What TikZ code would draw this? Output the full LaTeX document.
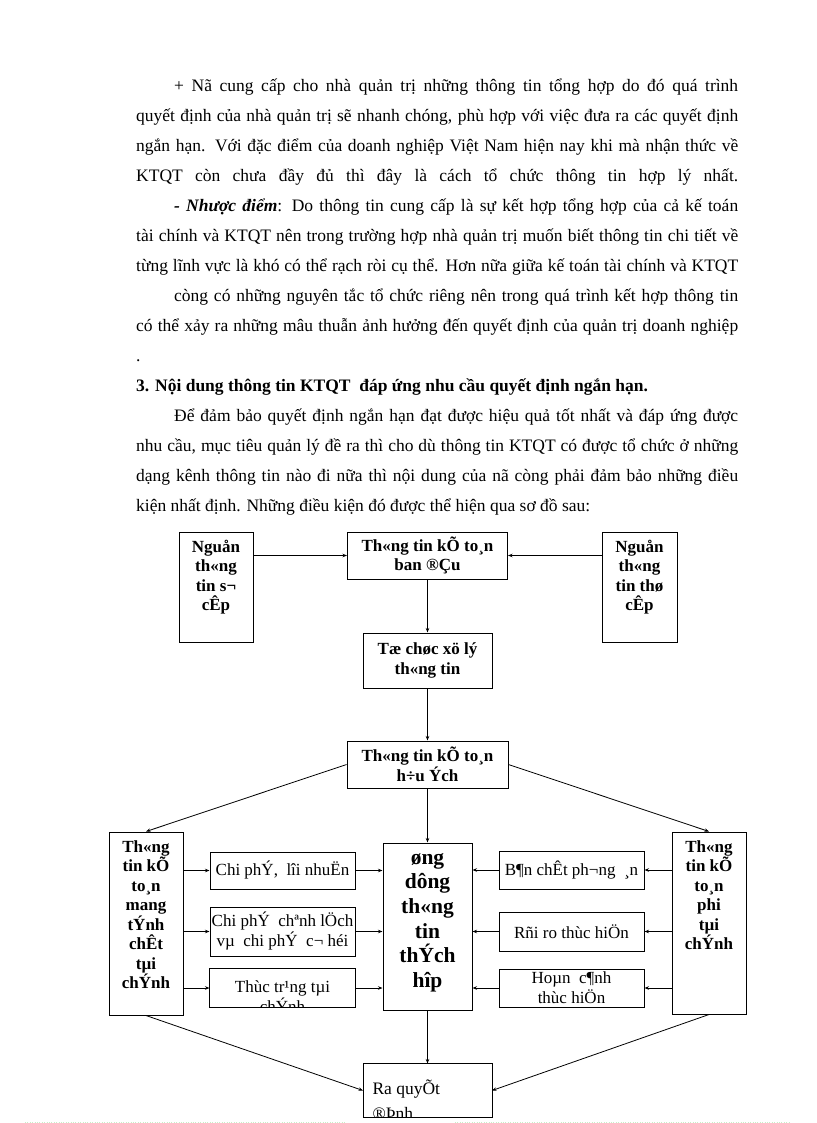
\documentclass[tikz,border=0pt]{standalone}
\usepackage{fontspec}
\setmainfont{Liberation Serif}
\usetikzlibrary{arrows.meta}
\newcommand{\topcell}[4]{\parbox[c][#1][t]{#2}{\centering\rule{0pt}{#3}#4}}

\begin{document}
\begin{tikzpicture}[x=1pt, y=-1pt,
  txt/.style={anchor=base west, inner sep=0pt, font=\fontsize{17.5}{30}\selectfont},
  bbox/.style={draw, line width=1pt, inner sep=0pt, align=center, font=\fontsize{17}{19.5}\selectfont\bfseries},
  nbox/.style={bbox, font=\fontsize{17}{20}\selectfont},
  arr/.style={line width=0.8pt, -{Stealth[length=4.5pt,width=3.5pt]}}]
  \useasboundingbox (0,0) rectangle (816,1123);
  \def\lead{29.95}
  % text above the chart, one justified line per node
  \foreach \k/\xs/\lw/\words in {
    0/174/564/{+ Nã cung cấp cho nhà quản trị những thông tin tổng hợp do đó quá trình},
    1/136/602/{quyết định của nhà quản trị sẽ nhanh chóng, phù hợp với việc đưa ra các quyết định},
    2/136/602/{ngắn hạn. Với đặc điểm của doanh nghiệp Việt Nam hiện nay khi mà nhận thức về},
    3/136/602/{KTQT còn chưa đầy đủ thì đây là cách tổ chức thông tin hợp lý nhất.},
    4/174/564/{{\bfseries\itshape - Nhược điểm}: Do thông tin cung cấp là sự kết hợp tổng hợp của cả kế toán},
    5/136/602/{tài chính và KTQT nên trong trường hợp nhà quản trị muốn biết thông tin chi tiết về},
    6/136/602/{từng lĩnh vực là khó có thể rạch ròi cụ thể. Hơn nữa giữa kế toán tài chính và KTQT},
    7/174/564/{còng có những nguyên tắc tổ chức riêng nên trong quá trình kết hợp thông tin},
    8/136/602/{có thể xảy ra những mâu thuẫn ảnh hưởng đến quyết định của quản trị doanh nghiệp},
    11/174/564/{Để đảm bảo quyết định ngắn hạn đạt được hiệu quả tốt nhất và đáp ứng được},
    12/136/602/{nhu cầu, mục tiêu quản lý đề ra thì cho dù thông tin KTQT có được tổ chức ở những},
    13/136/602/{dạng kênh thông tin nào đi nữa thì nội dung của nã còng phải đảm bảo những điều}} {
    \node[txt] (l\k) at (\xs,{92+\lead*\k}) {\makebox[\lw pt][s]{\words}};
  }
  \node[txt] (l9) at (136,{92+\lead*9}) {.};
  \node[txt, font=\fontsize{17.5}{30}\selectfont\bfseries] (l10) at (136,{92+\lead*10})
    {3. Nội dung thông tin KTQT\ \ đáp ứng nhu cầu quyết định ngắn hạn.};
  \node[txt] (l14) at (136,{92+\lead*14}) {kiện nhất định. Những điều kiện đó được thể hiện qua sơ đồ sau:};

  % top row
  \node[bbox] (src) at (216,587) {\topcell{110pt}{74pt}{20pt}{Nguån\\th«ng\\tin s¬\\cÊp}};
  \node[bbox] (thc) at (639.5,587) {\topcell{110pt}{75pt}{20pt}{Nguån\\th«ng\\tin thø\\cÊp}};
  \node[bbox, minimum width=160, minimum height=47] (kt) at (427.5,555.5) {Th«ng tin kÕ to¸n\\ban ®Çu};
  \node[bbox, minimum width=129, minimum height=55] (tc) at (427.5,660.5) {Tæ chøc xö lý\\th«ng tin};
  \node[bbox, minimum width=161, minimum height=47] (huu) at (427.5,764.5) {Th«ng tin kÕ to¸n\\h÷u Ých};

  % middle block
  \node[bbox] (lt) at (146,923.5) {\topcell{183pt}{74pt}{20pt}{Th«ng\\tin kÕ\\to¸n\\mang\\tÝnh\\chÊt\\tµi\\chÝnh}};
  \node[bbox] (rt) at (709,923) {\topcell{182pt}{74pt}{20pt}{Th«ng\\tin kÕ\\to¸n\\phi\\tµi\\chÝnh}};
  \node[bbox, font=\fontsize{21.5}{24.7}\selectfont\bfseries] (ud) at (427.5,926.5)
    {\topcell{167pt}{89pt}{21pt}{øng\\dông\\th«ng\\tin\\thÝch\\hîp}};
  \node[nbox, minimum width=145, minimum height=37] (cp1) at (282.5,870.5) {Chi phÝ,\ \ lîi nhuËn};
  \node[nbox, minimum width=145, minimum height=49] (cp2) at (282.5,931.5) {Chi phÝ\ \ chªnh lÖch\\vµ\ \ chi phÝ\ \ c¬ héi};
  \begin{scope}
    \clip (210,969) rectangle (355,1007);
    \node[nbox, draw=none] (cp3) at (282.5,988) {\topcell{38pt}{145pt}{23pt}{Thùc tr¹ng tµi\\chÝnh}};
  \end{scope}
  \draw[line width=1pt] (cp3.south west) rectangle (cp3.north east);
  \node[nbox, minimum width=145, minimum height=38] (bc) at (571.5,870) {B¶n chÊt ph¬ng\ \ ¸n};
  \node[nbox, minimum width=145, minimum height=39] (rr) at (571.5,931.5) {Rñi ro thùc hiÖn};
  \node[nbox, minimum width=145, minimum height=38] (hc) at (571.5,988) {Hoµn\ \ c¶nh\\thùc hiÖn};

  % bottom box, text cut by its lower edge
  \begin{scope}
    \clip (363.5,1064) rectangle (491.5,1117);
    \node[nbox, draw=none, font=\fontsize{17.5}{20}\selectfont] (rq) at (427.5,1090.5)
      {\parbox[c][53pt][t]{128pt}{\raggedright\leftskip=9pt\rule{0pt}{30pt}Ra quyÕt\\[5pt]®Þnh}};
  \end{scope}
  \draw[line width=1pt] (rq.south west) rectangle (rq.north east);

  % connectors
  \draw[arr] (src.east |- kt.west) -- (kt.west);
  \draw[arr] (thc.west |- kt.east) -- (kt.east);
  \draw[arr] (kt.south) -- (tc.north);
  \draw[arr] (tc.south) -- (huu.north);
  \draw[arr] (huu.south) -- (ud.north);
  \draw[arr] (huu.west) -- (lt.north);
  \draw[arr] (huu.east) -- (rt.north);
  \foreach \b in {cp1,cp2,cp3} {
    \draw[arr] (lt.east |- \b.west) -- (\b.west);
    \draw[arr] (\b.east) -- (ud.west |- \b.east);
  }
  \foreach \b in {bc,rr,hc} {
    \draw[arr] (rt.west |- \b.east) -- (\b.east);
    \draw[arr] (\b.west) -- (ud.east |- \b.west);
  }
  \draw[arr] (ud.south) -- (rq.north);
  \draw[arr] (lt.south) -- (rq.west);
  \draw[arr] (rt.south) -- (rq.east);

  % page edge
  \draw[dotted, color={rgb,255:red,200;green,238;blue,200}] (25,1122) -- (345,1122) (455,1122) -- (790,1122);
\end{tikzpicture}
\end{document}
